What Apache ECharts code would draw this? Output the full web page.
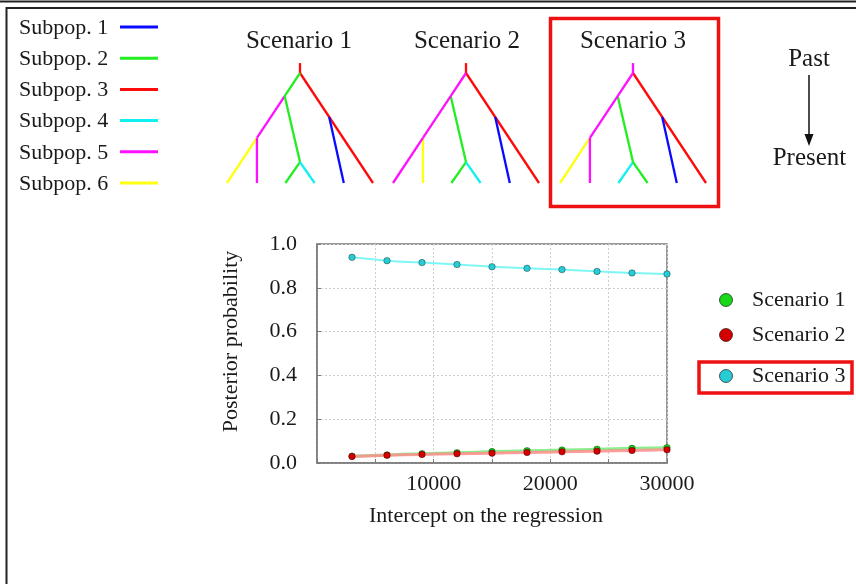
<!DOCTYPE html>
<html>
<head>
<meta charset="utf-8">
<title>Posterior probability of scenarios</title>
<script src="https://cdn.jsdelivr.net/npm/echarts@6/dist/echarts.min.js"></script>
<style>
  html, body { margin: 0; padding: 0; background: #fff; }
  #chart { width: 856px; height: 584px; }
</style>
</head>
<body>
<div id="chart"></div>
<script>
// ---- Posterior probabilities against the regression intercept ----
const intercepts = [3000, 6000, 9000, 12000, 15000, 18000, 21000, 24000, 27000, 30000];
const scenario1 = [0.031, 0.037, 0.042, 0.047, 0.052, 0.056, 0.059, 0.063, 0.067, 0.070];
const scenario2 = [0.030, 0.035, 0.039, 0.042, 0.045, 0.048, 0.051, 0.054, 0.057, 0.060];
const scenario3 = [0.939, 0.924, 0.915, 0.906, 0.896, 0.889, 0.883, 0.875, 0.868, 0.863];
const scenarioNames = ['Scenario 1', 'Scenario 2', 'Scenario 3'];
const xTickLabels = [10000, 20000, 30000];

// ---- Population trees (x: leaf slot, y: time before present) ----
const subpopNames = ['Subpop. 1', 'Subpop. 2', 'Subpop. 3', 'Subpop. 4', 'Subpop. 5', 'Subpop. 6'];
const treeNodes = {
  top: [5, 10.9], root: [5, 10], A: [3.95, 7.9], B: [2.05, 4.1], G: [5, 1.9], J: [7, 6],
  L1: [0, 0], L2: [2.05, 0], L3: [4, 0], L4: [6, 0], L5: [8, 0], L6: [10, 0]
};
// edges: [from, to, subpopulation number]
const tree1Edges = [
  ['top', 'root', 3], ['root', 'L6', 3], ['J', 'L5', 1],
  ['root', 'A', 2], ['A', 'B', 5], ['A', 'G', 2], ['G', 'L3', 2], ['G', 'L4', 4],
  ['B', 'L1', 6], ['B', 'L2', 5]
];
const tree2Edges = [
  ['top', 'root', 3], ['root', 'L6', 3], ['J', 'L5', 1],
  ['A', 'G', 2], ['G', 'L3', 2], ['G', 'L4', 4],
  ['B', 'L2', 6], ['root', 'A', 5], ['A', 'B', 5], ['B', 'L1', 5]
];
const tree3Edges = [
  ['root', 'L6', 3], ['J', 'L5', 1],
  ['A', 'G', 2], ['G', 'L3', 4], ['G', 'L4', 2],
  ['B', 'L1', 6], ['top', 'root', 5], ['root', 'A', 5], ['A', 'B', 5], ['B', 'L2', 5]
];

// ---- Styling ----
const FONT = '"Liberation Serif", "Times New Roman", serif';
const TEXT = '#1a1a1a';
const subpopColors = ['#0a0aff', '#22ee22', '#ff0a0a', '#10f0f0', '#ff10ff', '#ffff10'];
const markerColors = ['#18d818', '#d40000', '#28ccd4'];
const lineColors = ['rgba(120,235,120,0.85)', 'rgba(255,140,140,0.85)', 'rgba(120,245,245,0.95)'];
const lineWidths = [3, 3, 2];

const treeSets = [tree1Edges, tree2Edges, tree3Edges];
const treeLefts = [227, 393, 560];

function edgeData(edges) {
  return edges.map(e => {
    const a = treeNodes[e[0]], b = treeNodes[e[1]];
    return [a[0], a[1], b[0], b[1], e[2]];
  });
}

const grids = [{ left: 317, top: 244, width: 350, height: 219, show: true,
                 borderColor: '#7a7a7a', borderWidth: 1.5, backgroundColor: '#fff' }];
const xAxes = [{
  type: 'value', gridIndex: 0, min: 0, max: 30000, interval: 5000,
  axisLine: { show: true, lineStyle: { color: '#7a7a7a', width: 1.5 } },
  axisTick: { show: true, inside: true, length: 4, lineStyle: { color: '#7a7a7a' } },
  splitLine: { show: true, lineStyle: { color: '#cfcfcf', type: [2, 2], width: 1 } },
  axisLabel: {
    formatter: v => xTickLabels.indexOf(v) >= 0 ? String(v) : '',
    fontFamily: FONT, fontSize: 22, color: TEXT, margin: 10
  },
  name: 'Intercept on the regression', nameLocation: 'middle', nameGap: 42,
  nameTextStyle: { fontFamily: FONT, fontSize: 22, color: TEXT, padding: [0, 12, 0, 0] }
}];
const yAxes = [{
  type: 'value', gridIndex: 0, min: 0, max: 1, interval: 0.2,
  axisLine: { show: true, lineStyle: { color: '#7a7a7a', width: 1.5 } },
  axisTick: { show: true, inside: true, length: 4, lineStyle: { color: '#7a7a7a' } },
  splitLine: { show: true, lineStyle: { color: '#cfcfcf', type: [2, 2], width: 1 } },
  axisLabel: { formatter: v => v.toFixed(1), fontFamily: FONT, fontSize: 22, color: TEXT, margin: 20 },
  name: 'Posterior probability', nameLocation: 'middle', nameGap: 75,
  nameTextStyle: { fontFamily: FONT, fontSize: 22, color: TEXT, padding: [0, 0, 0, 24] }
}];

const series = [scenario1, scenario2, scenario3].map((vals, i) => ({
  name: scenarioNames[i], type: 'line', xAxisIndex: 0, yAxisIndex: 0,
  data: intercepts.map((x, k) => [x, vals[k]]),
  smooth: true, symbol: 'circle', symbolSize: 6.5, showSymbol: true,
  lineStyle: { color: lineColors[i], width: lineWidths[i] },
  itemStyle: { color: markerColors[i], borderColor: 'rgba(0,0,0,0.45)', borderWidth: 0.8 },
  z: 3 + i, animation: false
}));

treeSets.forEach((edges, t) => {
  const gi = t + 1;
  grids.push({ left: treeLefts[t], top: 62, width: 146, height: 121 });
  xAxes.push({ type: 'value', gridIndex: gi, min: 0, max: 10, show: false });
  yAxes.push({ type: 'value', gridIndex: gi, min: 0, max: 11, show: false });
  series.push({
    type: 'custom', xAxisIndex: gi, yAxisIndex: gi, animation: false, silent: true,
    data: edgeData(edges), encode: { x: [0, 2], y: [1, 3] },
    renderItem: (params, api) => {
      const p1 = api.coord([api.value(0), api.value(1)]);
      const p2 = api.coord([api.value(2), api.value(3)]);
      return {
        type: 'line',
        shape: { x1: p1[0], y1: p1[1], x2: p2[0], y2: p2[1] },
        style: { stroke: subpopColors[api.value(4) - 1], lineWidth: 2.3, lineCap: 'butt' }
      };
    }
  });
});

// ---- Annotations: frame, subpopulation key, titles, time arrow, scenario key ----
const graphic = [];
graphic.push({ type: 'line', shape: { x1: 0, y1: 1.5, x2: 856, y2: 1.5 }, style: { stroke: '#222', lineWidth: 2 } });
graphic.push({ type: 'line', shape: { x1: 6, y1: 8, x2: 856, y2: 8 }, style: { stroke: '#222', lineWidth: 2 } });
graphic.push({ type: 'line', shape: { x1: 6.5, y1: 7, x2: 6.5, y2: 584 }, style: { stroke: '#222', lineWidth: 2 } });

subpopNames.forEach((n, i) => {
  const y = 27 + i * 31.2;
  graphic.push({ type: 'text', x: 19, y: y + 1,
    style: { text: n, font: '22px ' + FONT, fill: TEXT, textVerticalAlign: 'middle' } });
  graphic.push({ type: 'line', shape: { x1: 120, y1: y, x2: 158, y2: y },
                 style: { stroke: subpopColors[i], lineWidth: 3 } });
});

const titleCenters = [299, 467, 633];
scenarioNames.forEach((n, i) => {
  graphic.push({ type: 'text', x: titleCenters[i], y: 41,
    style: { text: n, font: '25px ' + FONT, fill: TEXT, textAlign: 'center', textVerticalAlign: 'middle' } });
});
graphic.push({ type: 'rect', shape: { x: 550.5, y: 18.5, width: 168, height: 188 },
               style: { fill: 'none', stroke: '#ee1111', lineWidth: 3.5 } });

graphic.push({ type: 'text', x: 809, y: 59,
  style: { text: 'Past', font: '25px ' + FONT, fill: TEXT, textAlign: 'center', textVerticalAlign: 'middle' } });
graphic.push({ type: 'text', x: 809.5, y: 158,
  style: { text: 'Present', font: '25px ' + FONT, fill: TEXT, textAlign: 'center', textVerticalAlign: 'middle' } });
graphic.push({ type: 'line', shape: { x1: 809, y1: 75, x2: 809, y2: 136 }, style: { stroke: '#111', lineWidth: 1.5 } });
graphic.push({ type: 'polygon', shape: { points: [[804.5, 134], [813.5, 134], [809, 146]] }, style: { fill: '#111' } });

const keyY = [300, 335, 376];
scenarioNames.forEach((n, i) => {
  graphic.push({ type: 'circle', shape: { cx: 726, cy: keyY[i], r: 6.5 },
    style: { fill: markerColors[i], stroke: 'rgba(0,0,0,0.6)', lineWidth: 1 } });
  graphic.push({ type: 'text', x: 752, y: keyY[i],
    style: { text: n, font: '22px ' + FONT, fill: TEXT, textVerticalAlign: 'middle' } });
});
graphic.push({ type: 'rect', shape: { x: 699, y: 362, width: 153, height: 31 },
               style: { fill: 'none', stroke: '#ee1111', lineWidth: 3.5 } });

const chart = echarts.init(document.getElementById('chart'), null, { renderer: 'canvas' });
chart.setOption({
  backgroundColor: '#ffffff',
  animation: false,
  grid: grids, xAxis: xAxes, yAxis: yAxes,
  series: series,
  graphic: graphic
});
</script>
</body>
</html>
